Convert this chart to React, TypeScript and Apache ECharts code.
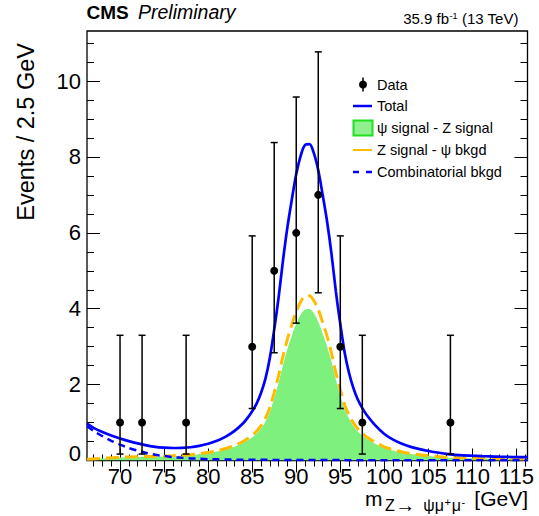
import React, { useEffect, useRef } from "react";
import * as echarts from "echarts";

// ---- data ----
const dataX = [70, 72.5, 77.5, 85, 87.5, 90, 92.5, 95, 97.5, 107.5];
const dataY = [1, 1, 1, 3, 5, 6, 7, 3, 1, 1];
const dataLow = [0.17, 0.17, 0.17, 1.37, 2.84, 3.62, 4.42, 1.37, 0.17, 0.17];
const dataHigh = [3.3, 3.3, 3.3, 5.92, 8.38, 9.58, 10.77, 5.92, 3.3, 3.3];

const curveX = [
  66.25, 67, 68, 69, 70, 71, 72, 73, 74, 75, 76, 77, 78, 79, 80, 81, 82, 83,
  84, 84.5, 85, 85.5, 86, 86.5, 87, 87.5, 88, 88.5, 89, 89.5, 90, 90.5, 91, 91.5,
  92, 92.5, 93, 93.5, 94, 94.5, 95, 95.5, 96, 96.5, 97, 97.5, 98,
  99, 100, 101, 102, 103, 104, 105, 106, 107, 108, 109, 110, 111, 112, 113, 114, 115,
  116.25,
];
const totalY = [
  0.97, 0.86, 0.75, 0.66, 0.58, 0.51, 0.45, 0.4, 0.36, 0.34, 0.33, 0.335, 0.35, 0.385,
  0.44, 0.52, 0.63, 0.78,
  0.99, 1.13, 1.3, 1.5, 1.78, 2.15, 2.7, 3.45, 4.3, 5.28, 6.15, 6.88, 7.55, 8.03, 8.32,
  8.34, 8.1, 7.65, 7.0, 6.3, 5.45, 4.45, 3.6, 2.84, 2.3, 1.9, 1.6, 1.38, 1.2,
  0.92, 0.7, 0.55, 0.44, 0.36, 0.3, 0.25, 0.21, 0.175, 0.15, 0.135, 0.125, 0.115, 0.108,
  0.1, 0.095, 0.09, 0.088,
];
const combY = [
  0.9, 0.78, 0.64, 0.52, 0.42, 0.33, 0.26, 0.2, 0.15, 0.12, 0.09, 0.07, 0.055, 0.045,
  0.035, 0.03, 0.025, 0.022,
  0.02, 0.019, 0.018, 0.018, 0.017, 0.017, 0.016, 0.016, 0.015, 0.015, 0.014, 0.014,
  0.013, 0.013, 0.012, 0.012, 0.011, 0.011, 0.011, 0.011, 0.01, 0.01, 0.01, 0.01, 0.009,
  0.009, 0.009, 0.009, 0.008,
  0.008, 0.008, 0.007, 0.007, 0.007, 0.006, 0.006, 0.006, 0.006, 0.005, 0.005, 0.005,
  0.005, 0.005, 0.005, 0.005, 0.005, 0.005,
];
const zSignalY = [
  0.036, 0.042, 0.057, 0.073, 0.083, 0.094, 0.099, 0.104, 0.109, 0.115, 0.125, 0.138,
  0.154, 0.177, 0.211, 0.255, 0.315, 0.395,
  0.505, 0.578, 0.667, 0.771, 0.917, 1.11, 1.4, 1.79, 2.24, 2.75, 3.2, 3.58, 3.93, 4.18,
  4.33, 4.34, 4.21, 3.98, 3.64, 3.28, 2.83, 2.31, 1.87, 1.47, 1.19, 0.985, 0.828, 0.714,
  0.62,
  0.475, 0.361, 0.283, 0.226, 0.184, 0.153, 0.127, 0.106, 0.088, 0.076, 0.068, 0.063,
  0.057, 0.054, 0.049, 0.047, 0.044, 0.043,
];
const psiSignalY = [
  0.034, 0.038, 0.053, 0.067, 0.077, 0.086, 0.091, 0.096, 0.101, 0.105, 0.115, 0.127,
  0.141, 0.163, 0.194, 0.235, 0.29, 0.363,
  0.465, 0.532, 0.613, 0.709, 0.843, 1.02, 1.28, 1.64, 2.05, 2.52, 2.94, 3.29, 3.61, 3.84,
  3.98, 3.99, 3.88, 3.66, 3.35, 3.01, 2.61, 2.13, 1.72, 1.36, 1.1, 0.905, 0.762, 0.656,
  0.57,
  0.437, 0.331, 0.26, 0.207, 0.169, 0.141, 0.117, 0.098, 0.081, 0.069, 0.062, 0.057,
  0.053, 0.049, 0.046, 0.043, 0.041, 0.04,
];

const majorX = [70, 75, 80, 85, 90, 95, 100, 105, 110, 115];
const minorX = Array.from({ length: 50 }, (_, i) => 67 + i).filter(
  (v) => v <= 116 && !majorX.includes(v)
);
const majorY = [0, 2, 4, 6, 8, 10];
const minorY = Array.from({ length: 23 }, (_, i) => i * 0.5).filter(
  (v) => v <= 11 && !majorY.includes(v)
);

const X_MIN = 66.25;
const X_MAX = 116.25;
const Y_MIN = 0;
const Y_MAX = 11.32;

const FONT = "'Liberation Sans', Arial, Helvetica, sans-serif";

const pairs = (ys: number[]) => curveX.map((x, i) => [x, ys[i]]);

const fontOf = (size: number, extra: any = {}) =>
  `${extra.fontStyle || ""} ${extra.weight || ""} ${size}px ${FONT}`.trim();

let measureCtx: CanvasRenderingContext2D | null = null;
const measure = (text: string, size: number) => {
  if (!measureCtx) measureCtx = document.createElement("canvas").getContext("2d");
  if (!measureCtx) return text.length * size * 0.55;
  measureCtx.font = fontOf(size);
  return measureCtx.measureText(text).width;
};

// text placed by its baseline (ECharts "middle" = em-box centre)
const txt = (
  text: string,
  x: number,
  baseline: number,
  size: number,
  extra: any = {},
  align = "left"
) => ({
  type: "text",
  x,
  y: baseline - 0.3465 * size,
  style: {
    text,
    font: fontOf(size, extra),
    fill: "#000",
    align,
    verticalAlign: "middle",
  },
});

// a run of pieces (sub/superscripts) laid out left to right
const chain = (
  x0: number,
  pieces: { t: string; size: number; base: number; gap?: number }[]
) => {
  let x = x0;
  return pieces.map((p) => {
    x += p.gap || 0;
    const el = txt(p.t, x, p.base, p.size);
    x += measure(p.t, p.size);
    return el;
  });
};

export default function App() {
  const ref = useRef<HTMLDivElement>(null);
  useEffect(() => {
    if (!ref.current) return;
    const chart = echarts.init(ref.current, null, { renderer: "svg" });

    const xBase = {
      type: "value" as const,
      min: X_MIN,
      max: X_MAX,
      splitLine: { show: false },
      axisLine: { show: false },
    };
    const yBase = {
      type: "value" as const,
      min: Y_MIN,
      max: Y_MAX,
      splitLine: { show: false },
      axisLine: { show: false },
    };
    const tick = (vals: number[], len: number) => ({
      show: true,
      inside: true,
      length: len,
      customValues: vals,
      lineStyle: { color: "#000", width: 1 },
    });

    const legendY = [84.5, 106, 128, 150, 172];
    const legendText = [
      "Data",
      "Total",
      "ψ signal - Z signal",
      "Z signal - ψ bkgd",
      "Combinatorial bkgd",
    ];

    const lineSeries = (name: string, ys: number[], extra: any) => ({
      name,
      type: "line",
      data: pairs(ys),
      smooth: 0.3,
      showSymbol: false,
      ...extra,
    });

    const option: any = {
      animation: false,
      backgroundColor: "#fff",
      grid: {
        left: 87,
        top: 31,
        width: 440.5,
        height: 429.5,
        show: true,
        borderColor: "#000",
        borderWidth: 1.3,
        backgroundColor: "transparent",
      },
      xAxis: [
        {
          ...xBase,
          position: "bottom",
          axisTick: tick(majorX, 12),
          axisLabel: {
            customValues: majorX,
            fontSize: 22,
            color: "#000",
            fontFamily: FONT,
            margin: 5,
          },
        },
        { ...xBase, position: "bottom", axisTick: tick(minorX, 6), axisLabel: { show: false } },
        { ...xBase, position: "top", axisTick: tick(majorX, 12), axisLabel: { show: false } },
        { ...xBase, position: "top", axisTick: tick(minorX, 6), axisLabel: { show: false } },
      ],
      yAxis: [
        {
          ...yBase,
          position: "left",
          axisTick: tick(majorY, 13),
          axisLabel: {
            customValues: majorY,
            fontSize: 22,
            color: "#000",
            fontFamily: FONT,
            margin: 6,
            formatter: (v: number) => (v === 0 ? "{z|0}" : String(v)),
            rich: {
              z: { fontSize: 22, fontFamily: FONT, color: "#000", padding: [0, 0, 14, 0] },
            },
          },
        },
        { ...yBase, position: "left", axisTick: tick(minorY, 7), axisLabel: { show: false } },
        { ...yBase, position: "right", axisTick: tick(majorY, 13), axisLabel: { show: false } },
        { ...yBase, position: "right", axisTick: tick(minorY, 7), axisLabel: { show: false } },
      ],
      series: [
        lineSeries("ψ signal - Z signal", psiSignalY, {
          lineStyle: { width: 0 },
          areaStyle: { color: "#7df07d", opacity: 1 },
          z: 2,
        }),
        lineSeries("Z signal - ψ bkgd", zSignalY, {
          lineStyle: { color: "#ffbb00", width: 3, type: [13, 6] },
          z: 3,
        }),
        lineSeries("Combinatorial bkgd", combY, {
          lineStyle: { color: "#0000ff", width: 2.5, type: [7, 5] },
          z: 4,
        }),
        lineSeries("Total", totalY, {
          lineStyle: { color: "#0000ff", width: 2.7 },
          z: 5,
        }),
        {
          name: "Data",
          type: "custom",
          z: 6,
          data: dataX.map((x, i) => [x, dataY[i], dataLow[i], dataHigh[i]]),
          encode: { x: 0, y: 1 },
          renderItem: (_p: any, api: any) => {
            const x = api.value(0);
            const p = api.coord([x, api.value(1)]);
            const lo = api.coord([x, api.value(2)]);
            const hi = api.coord([x, api.value(3)]);
            const st = { stroke: "#000", lineWidth: 1.5 };
            return {
              type: "group",
              children: [
                { type: "line", shape: { x1: p[0], y1: lo[1], x2: p[0], y2: hi[1] }, style: st },
                { type: "line", shape: { x1: p[0] - 3.5, y1: lo[1], x2: p[0] + 3.5, y2: lo[1] }, style: st },
                { type: "line", shape: { x1: p[0] - 3.5, y1: hi[1], x2: p[0] + 3.5, y2: hi[1] }, style: st },
                { type: "circle", shape: { cx: p[0], cy: p[1], r: 4 }, style: { fill: "#000" } },
              ],
            };
          },
        },
      ],
      graphic: [
        // header
        txt("CMS", 86.5, 18.6, 19, { weight: "bold" }),
        txt("Preliminary", 138, 18.6, 19.5, { fontStyle: "italic" }),
        txt("35.9 fb", 449, 24, 15, {}, "right"),
        txt("-1", 449.5, 19.5, 9),
        txt("(13 TeV)", 462, 24, 15),
        // y-axis title
        {
          type: "text",
          x: 26,
          y: 43,
          rotation: Math.PI / 2,
          style: {
            text: "Events / 2.5 GeV",
            font: `23.5px ${FONT}`,
            fill: "#000",
            align: "right",
            verticalAlign: "middle",
          },
        },
        // x-axis title: m_{Z→ ψμ⁺μ⁻} [GeV]
        txt("m", 365, 505.5, 21),
        ...chain(385, [
          { t: "Z", size: 16, base: 511.5 },
          { t: "→", size: 20, base: 511.5, gap: 0.5 },
          { t: "ψμ", size: 16, base: 511.5, gap: 8 },
          { t: "+", size: 11, base: 506, gap: 0.5 },
          { t: "μ", size: 16, base: 511.5, gap: 1 },
          { t: "-", size: 11, base: 506, gap: 0.5 },
        ]),
        txt("[GeV]", 528, 505.5, 21, {}, "right"),
        // legend
        {
          type: "line",
          shape: { x1: 363, y1: legendY[0] - 7, x2: 363, y2: legendY[0] + 7 },
          style: { stroke: "#000", lineWidth: 1.5 },
        },
        { type: "circle", shape: { cx: 363, cy: legendY[0], r: 4 }, style: { fill: "#000" } },
        {
          type: "line",
          shape: { x1: 353, y1: legendY[1], x2: 372, y2: legendY[1] },
          style: { stroke: "#0000ff", lineWidth: 2.5 },
        },
        {
          type: "rect",
          shape: { x: 353.5, y: legendY[2] - 7.5, width: 19, height: 15 },
          style: { fill: "#8ff08f", stroke: "#1ee01e", lineWidth: 2 },
        },
        {
          type: "line",
          shape: { x1: 353, y1: legendY[3], x2: 372, y2: legendY[3] },
          style: { stroke: "#ffbb00", lineWidth: 2 },
        },
        {
          type: "line",
          shape: { x1: 353, y1: legendY[4], x2: 372, y2: legendY[4] },
          style: { stroke: "#0000ff", lineWidth: 2.5, lineDash: [6, 7] },
        },
        ...legendText.map((t, i) => ({
          type: "text",
          x: 377,
          y: legendY[i],
          style: { text: t, font: `14.5px ${FONT}`, fill: "#000", verticalAlign: "middle" },
        })),
      ],
    };

    chart.setOption(option);
    return () => chart.dispose();
  }, []);

  return (
    <div
      ref={ref}
      style={{ position: "fixed", left: 0, top: 0, width: 539, height: 516 }}
    />
  );
}
